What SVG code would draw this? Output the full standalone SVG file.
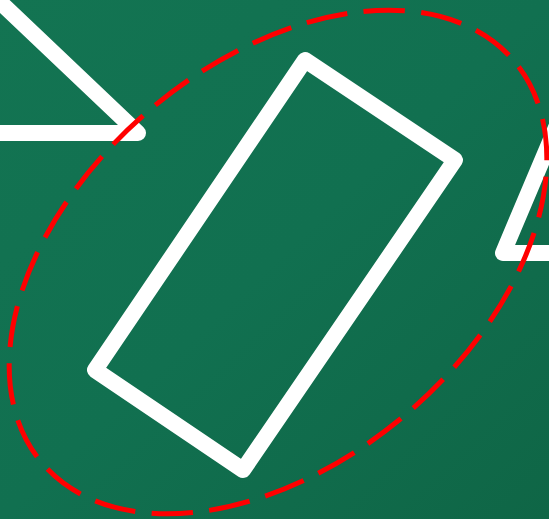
<svg xmlns="http://www.w3.org/2000/svg" width="549" height="519" viewBox="0 0 549 519">
  <defs>
    <linearGradient id="board" x1="0" y1="0" x2="1" y2="1">
      <stop offset="0" stop-color="#137452"/>
      <stop offset="0.5" stop-color="#117050"/>
      <stop offset="1" stop-color="#0f6646"/>
    </linearGradient>
    <style>
      .chalk { fill: none; stroke: #ffffff; stroke-width: 16; stroke-linejoin: round; stroke-linecap: round; }
      .dash { fill: none; stroke: #ff0000; stroke-width: 5; stroke-dasharray: 41.5 16.3; stroke-dashoffset: -8; }
    </style>
  </defs>
  <rect x="0" y="0" width="549" height="519" fill="url(#board)"/>
  <g id="left-triangle">
    <polygon class="chalk" points="138,133 -200,133 -200,-188"/>
  </g>
  <g id="rectangle">
    <polygon class="chalk" points="305,60 455,160 243,470 95,370"/>
  </g>
  <g id="right-triangle">
    <polygon class="chalk" points="503,253 700,253 650,-95"/>
  </g>
  <g id="ellipse">
    <ellipse class="dash" cx="278" cy="262" rx="310" ry="199" transform="rotate(-40.5 278 262)"/>
  </g>
</svg>
